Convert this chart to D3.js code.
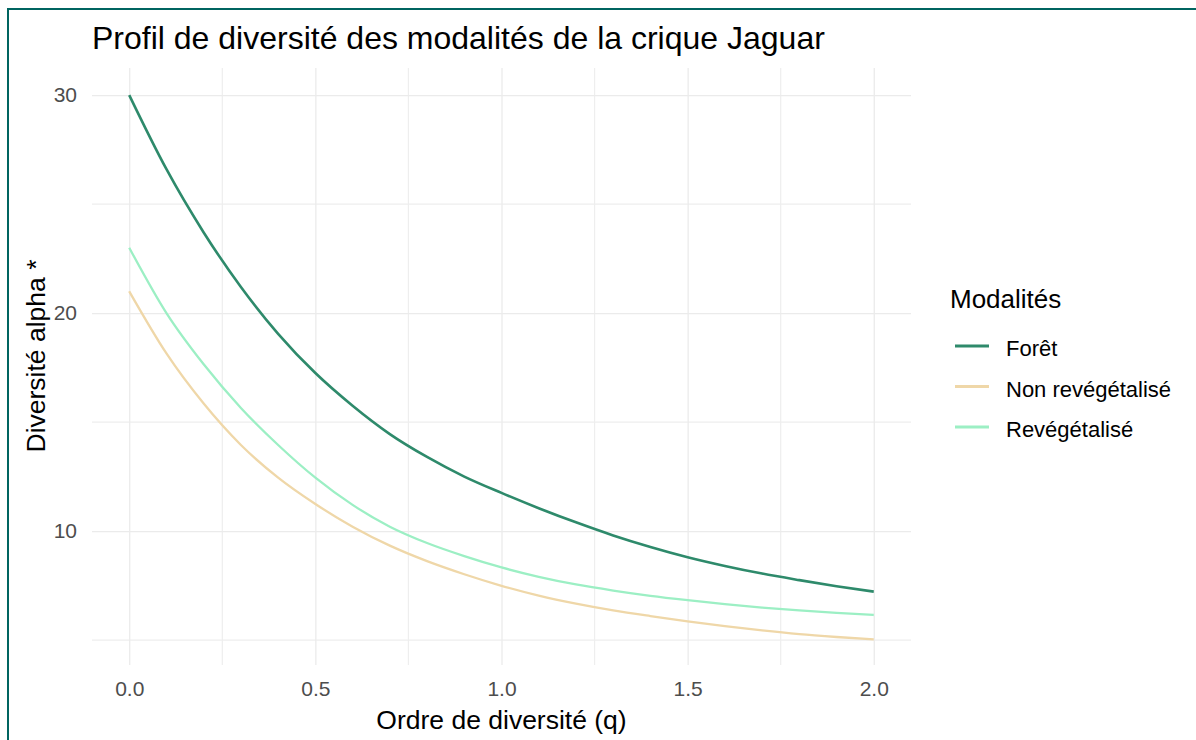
<!DOCTYPE html>
<html>
<head>
<meta charset="utf-8">
<script src="https://cdn.jsdelivr.net/npm/d3@7"></script>
<style>
  body { margin: 0; background: #fff; }
  svg { font-family: "Liberation Sans", Arial, sans-serif; }
</style>
</head>
<body>
<svg id="chart" width="1196" height="740"></svg>
<script>
// ordre de diversité q
const qValues = [0, 0.1, 0.2, 0.3, 0.4, 0.5, 0.6, 0.7, 0.8, 0.9, 1.0,
  1.1, 1.2, 1.3, 1.4, 1.5, 1.6, 1.7, 1.8, 1.9, 2.0];
const foret = [30, 26.6, 23.7, 21.2, 19.05, 17.25, 15.75, 14.45, 13.4, 12.5, 11.75,
  11.05, 10.4, 9.8, 9.27, 8.8, 8.4, 8.05, 7.75, 7.47, 7.22];
const nonRevegetalise = [21, 18.15, 15.85, 13.95, 12.45, 11.24, 10.2, 9.33, 8.62, 8.02, 7.49,
  7.04, 6.67, 6.36, 6.1, 5.86, 5.64, 5.44, 5.27, 5.14, 5.03];
const revegetalise = [23, 20.0, 17.65, 15.65, 13.95, 12.45, 11.2, 10.2, 9.45, 8.85, 8.33,
  7.9, 7.55, 7.27, 7.03, 6.83, 6.65, 6.49, 6.36, 6.25, 6.15];
const seriesNames = ['Forêt', 'Non revégétalisé', 'Revégétalisé'];
const xTicks = [0, 0.5, 1.0, 1.5, 2.0];
const yTicks = [10, 20, 30];

const colors = ['#2e8a6b', '#efd7a8', '#9cefc4'];
const seriesValues = [foret, nonRevegetalise, revegetalise];

let svg = d3.select('#chart');

// cadre
svg.append('rect')
  .attr('x', 8).attr('y', 9)
  .attr('width', 1300).attr('height', 800)
  .attr('fill', 'none')
  .attr('stroke', '#006460')
  .attr('stroke-width', 2);

const pLeft = 92, pRight = 911, pTop = 68, pBottom = 665;

// scales
let x = d3.scaleLinear().domain([-0.1, 2.1]).range([pLeft, pRight]);
let y = d3.scaleLinear().domain([3.855, 31.245]).range([pBottom, pTop]);

// grille mineure
let g = svg.append('g');
g.selectAll('.vminor')
  .data(d3.range(0.25, 2, 0.5))
  .enter().append('line')
  .attr('x1', d => x(d)).attr('x2', d => x(d))
  .attr('y1', pTop).attr('y2', pBottom)
  .attr('stroke', '#eeeeee').attr('stroke-width', 1.2);
g.selectAll('.hminor')
  .data([5, 15, 25])
  .enter().append('line')
  .attr('x1', pLeft).attr('x2', pRight)
  .attr('y1', d => y(d)).attr('y2', d => y(d))
  .attr('stroke', '#eeeeee').attr('stroke-width', 1.2);

// grille majeure via les axes
let gx = svg.append('g')
  .attr('transform', 'translate(0,' + pBottom + ')')
  .call(d3.axisBottom(x).tickValues(xTicks).tickFormat(d3.format('.1f'))
    .tickSize(-(pBottom - pTop)).tickPadding(16));
let gy = svg.append('g')
  .attr('transform', 'translate(' + pLeft + ',0)')
  .call(d3.axisLeft(y).tickValues(yTicks)
    .tickSize(-(pRight - pLeft)).tickPadding(15));

[gx, gy].forEach(a => {
  a.select('.domain').remove();
  a.selectAll('line').attr('stroke', '#ebebeb').attr('stroke-width', 1.3);
  a.selectAll('text').attr('fill', '#4d4d4d').style('font-size', '21px');
});

// courbes
let line = d3.line()
  .x((d, i) => x(qValues[i]))
  .y(d => y(d))
  .curve(d3.curveMonotoneX);

seriesValues.forEach((vals, k) => {
  svg.append('path')
    .datum(vals)
    .attr('d', line)
    .attr('fill', 'none')
    .attr('stroke', colors[k])
    .attr('stroke-width', k === 0 ? 2.6 : 2.3);
});

// titres
svg.append('text')
  .attr('x', 92).attr('y', 49)
  .style('font-size', '32px')
  .attr('fill', '#000')
  .text('Profil de diversité des modalités de la crique Jaguar');

svg.append('text')
  .attr('x', (pLeft + pRight) / 2).attr('y', 729)
  .attr('text-anchor', 'middle')
  .style('font-size', '26.5px')
  .text('Ordre de diversité (q)');

svg.append('text')
  .attr('transform', 'translate(45,356) rotate(-90)')
  .attr('text-anchor', 'middle')
  .style('font-size', '26.5px')
  .text('Diversité alpha *');

// légende
let legend = svg.append('g');
legend.append('text')
  .attr('x', 950).attr('y', 308)
  .style('font-size', '26px')
  .text('Modalités');

seriesNames.forEach((name, k) => {
  let yy = 346 + k * 40.5;
  legend.append('line')
    .attr('x1', 955).attr('x2', 989)
    .attr('y1', yy).attr('y2', yy)
    .attr('stroke', colors[k]).attr('stroke-width', 3);
  legend.append('text')
    .attr('x', 1006).attr('y', yy + 10)
    .style('font-size', '22px')
    .attr('fill', '#000')
    .text(name);
});
</script>
</body>
</html>
